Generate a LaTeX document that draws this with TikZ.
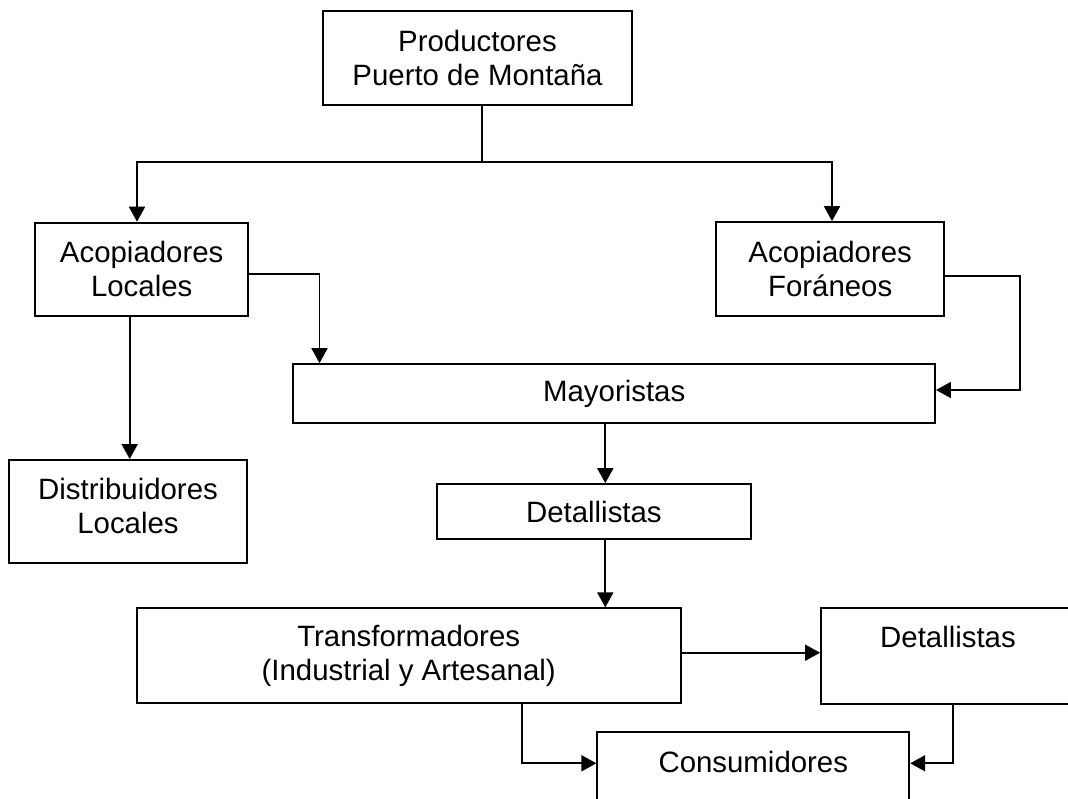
\documentclass[tikz,border=0pt]{standalone}
\usepackage{fontspec}
\setmainfont{Liberation Sans}
\usetikzlibrary{arrows.meta}
\begin{document}
\begin{tikzpicture}[x=1pt,y=-1pt,
  txt/.style={font=\fontsize{29.4}{34}\selectfont, align=center},
  box/.style={draw, line width=1.8pt, inner sep=0pt, txt},
  lbl/.style={inner sep=0pt, txt},
  link/.style={line width=1.8pt},
  flow/.style={line width=1.8pt, -{Triangle[length=15pt,width=16pt]}}]
\useasboundingbox (0,0) rectangle (1068,798);
\clip (0,0) rectangle (1068,798);

% boxes
\node[box, minimum width=309pt, minimum height=94.3pt] (prod) at (477.5,57.9) {Productores\\Puerto de Montaña};
\node[box, minimum width=213.3pt, minimum height=93.2pt] (al) at (141.7,269.2) {Acopiadores\\Locales};
\node[box, minimum width=228.3pt, minimum height=93.7pt] (af) at (830.2,268.9) {Acopiadores\\Foráneos};
\node[box, minimum width=641.7pt, minimum height=59.3pt] (may) at (614.2,393.7) {Mayoristas};
\node[box, minimum width=238.6pt, minimum height=102.7pt] (dist) at (128,511.3) {};
\node[lbl] (distt) at (128,505.5) {Distribuidores\\Locales};
\node[box, minimum width=314.3pt, minimum height=55.3pt] (det1) at (593.9,511.7) {Detallistas};
\node[box, minimum width=544pt, minimum height=95pt] (trans) at (408.7,655.8) {Transformadores\\(Industrial y Artesanal)};
\node[box, minimum width=260pt, minimum height=95.7pt] (det2) at (951,656.2) {};
\node[lbl] (det2t) at (948,637) {Detallistas};
\node[box, minimum width=312pt, minimum height=100pt] (cons) at (753.3,782.3) {};
\node[lbl] (const) at (753.3,761.7) {Consumidores};

% routing points
\coordinate (split) at (482,162);
\coordinate (xa) at (137,0);
\coordinate (xb) at (832,0);
\coordinate (ya) at (0,274);
\coordinate (xc) at (319.5,0);
\coordinate (xd) at (129.7,0);
\coordinate (yf) at (0,276);
\coordinate (c1) at (1020,390);
\coordinate (xm) at (605.3,0);
\coordinate (yt) at (0,652.7);
\coordinate (c2) at (521.7,763.3);
\coordinate (c3) at (952.7,763.3);

% connectors
\draw[link] (prod.south -| split) -- (split);
\draw[flow] (split) -| (al.north -| xa);
\draw[flow] (split) -| (af.north -| xb);
\draw[flow] (al.east |- ya) -| (may.north -| xc);
\draw[flow] (al.south -| xd) -- (dist.north -| xd);
\draw[flow] (af.east |- yf) -| (c1) -- (may.east |- c1);
\draw[flow] (may.south -| xm) -- (det1.north -| xm);
\draw[flow] (det1.south -| xm) -- (trans.north -| xm);
\draw[flow] (trans.east |- yt) -- (det2.west |- yt);
\draw[flow] (trans.south -| c2) |- (cons.west |- c2);
\draw[flow] (det2.south -| c3) |- (cons.east |- c3);
\end{tikzpicture}
\end{document}
